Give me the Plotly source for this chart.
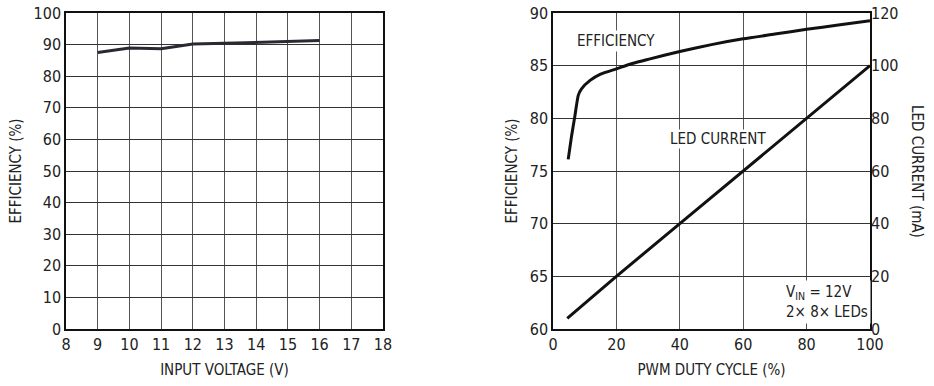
import plotly.graph_objects as go

# Left chart: efficiency vs input voltage
vin = [9, 10, 11, 12, 13, 14, 15, 16]
eff_vin = [87.5, 88.9, 88.7, 90.2, 90.4, 90.7, 91.0, 91.3]

# Right chart: efficiency and LED current vs PWM duty cycle
duty_eff = [4.8, 5.8, 6.9, 8.0, 9.0, 11.7, 15, 20, 25, 30, 40, 50, 60, 70, 80, 90, 100]
eff_duty = [76.1, 78.2, 80.2, 82.2, 82.8, 83.6, 84.2, 84.7, 85.2, 85.6, 86.35, 87.0, 87.55, 88.0, 88.45, 88.85, 89.27]
duty_cur = [4.5, 20, 40, 60, 80, 100]
led_current = [4, 20, 40, 60, 80, 100]

left_xticks = list(range(8, 19))
left_yticks = list(range(0, 101, 10))
right_xticks = list(range(0, 101, 20))
right_yticks = list(range(60, 91, 5))
right_y2ticks = list(range(0, 121, 20))

FONT = "DejaVu Sans Condensed, Roboto, sans-serif"
LINE = "#111111"
TXT = "#222"

fig = go.Figure()
fig.add_trace(go.Scatter(x=vin, y=eff_vin, mode="lines",
                         line=dict(color="#2a2a35", width=3), xaxis="x", yaxis="y",
                         showlegend=False, hoverinfo="skip"))
fig.add_trace(go.Scatter(x=duty_eff, y=eff_duty, mode="lines",
                         line=dict(color=LINE, width=3, shape="spline", smoothing=0.6),
                         xaxis="x2", yaxis="y2", showlegend=False, hoverinfo="skip"))
fig.add_trace(go.Scatter(x=duty_cur, y=led_current, mode="lines",
                         line=dict(color=LINE, width=3), xaxis="x2", yaxis="y3",
                         showlegend=False, hoverinfo="skip"))

axis_common = dict(showline=True, linecolor="#111", linewidth=1.5, mirror=True,
                   ticks="", showgrid=True, zeroline=False, automargin=False,
                   ticklabeloverflow="allow",
                   tickfont=dict(family=FONT, size=16, color=TXT),
                   title_font=dict(family=FONT, size=15, color=TXT))

fig.update_layout(
    width=934, height=386,
    margin=dict(l=66, r=64, t=13, b=57),
    paper_bgcolor="white", plot_bgcolor="white",
    font=dict(family=FONT, size=16, color=TXT),
    xaxis=dict(domain=[0, 0.3943], range=[8, 18], tickvals=left_xticks,
               gridcolor="#555", gridwidth=1.2,
               title=dict(text="INPUT VOLTAGE (V)", standoff=12), **axis_common),
    yaxis=dict(domain=[0, 1], range=[0, 100], tickvals=left_yticks,
               gridcolor="#333", gridwidth=1.2,
               title=dict(text="EFFICIENCY (%)", standoff=8), **axis_common),
    xaxis2=dict(domain=[0.6057, 1], range=[0, 100], tickvals=right_xticks, anchor="y2",
                gridcolor="#555", gridwidth=1.2,
                title=dict(text="PWM DUTY CYCLE (%)", standoff=12), **axis_common),
    yaxis2=dict(domain=[0, 1], range=[60, 90], tickvals=right_yticks, anchor="x2",
                gridcolor="#333", gridwidth=1.2,
                title=dict(text="EFFICIENCY (%)", standoff=8), **axis_common),
    yaxis3=dict(range=[0, 120], tickvals=right_y2ticks, overlaying="y2", side="right",
                anchor="x2", showgrid=False, showline=False, zeroline=False, ticks="",
                automargin=False, ticklabeloverflow="allow",
                tickfont=dict(family=FONT, size=16, color=TXT)),
)

ann_font = dict(family=FONT, size=15, color=TXT)
fig.add_annotation(x=0.6, y=10, xref="x", yref="y", xanchor="left", yanchor="middle",
                   text="LT3486<br>2× 10× WHITE 100mA LEDs", align="left", showarrow=False,
                   font=ann_font, bgcolor="white", borderpad=2)
fig.add_annotation(x=7, y=87.3, xref="x2", yref="y2", xanchor="left", yanchor="middle",
                   text="EFFICIENCY", showarrow=False, font=ann_font, bgcolor="white", borderpad=1)
fig.add_annotation(x=36.6, y=78.0, xref="x2", yref="y2", xanchor="left", yanchor="middle",
                   text="LED CURRENT", showarrow=False, font=ann_font, bgcolor="white", borderpad=0)
fig.add_annotation(x=72.5, y=62.6, xref="x2", yref="y2", xanchor="left", yanchor="middle",
                   text="V<sub>IN</sub> = 12V<br>2× 8× LEDs", align="left", showarrow=False,
                   font=ann_font, bgcolor="white", borderpad=2)
fig.add_annotation(x=(928 - 66) / 804, y=0.5, xref="paper", yref="paper",
                   text="LED CURRENT (mA)", showarrow=False, textangle=90,
                   font=dict(family=FONT, size=15, color=TXT))

fig.write_html("out.html", config={"displayModeBar": False},
               post_script="document.body.style.margin='0';document.body.style.overflow='hidden';")
